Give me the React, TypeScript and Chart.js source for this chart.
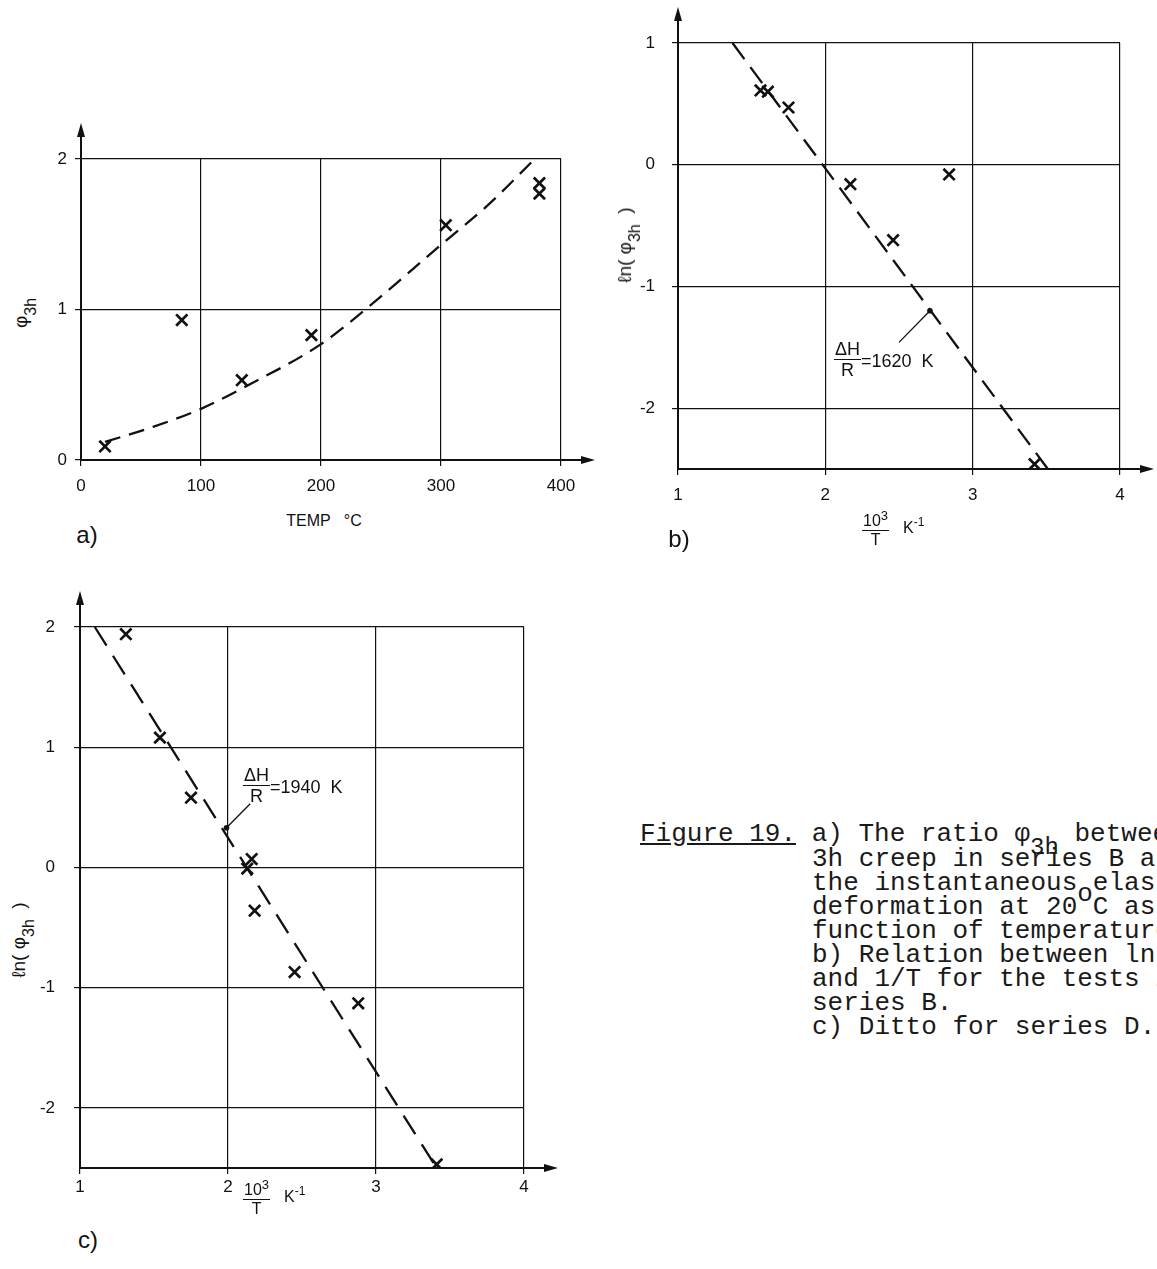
import React, { useEffect, useRef } from "react";
import { Chart, registerables } from "chart.js";

Chart.register(...registerables);

// ---------- Data: a) phi_3h vs temperature (series B) ----------
const tempA = [20, 84, 134, 192, 304, 382, 382];
const phiA = [0.09, 0.93, 0.53, 0.83, 1.56, 1.84, 1.77];
const fitTempA = [20, 60, 100, 140, 200, 240, 300, 340, 378];
const fitPhiA = [0.12, 0.22, 0.34, 0.5, 0.77, 1.02, 1.43, 1.7, 2.0];
const xTicksA = [0, 100, 200, 300, 400];
const yTicksA = [0, 1, 2];

// ---------- Data: b) ln(phi_3h) vs 10^3/T (series B) ----------
const invTB = [1.56, 1.61, 1.75, 2.17, 2.46, 2.84, 3.42];
const lnPhiB = [0.61, 0.6, 0.47, -0.16, -0.62, -0.08, -2.46];
const fitInvTB = [1.37, 3.51];
const fitLnB = [1.0, -2.5];
const xTicksB = [1, 2, 3, 4];
const yTicksB = [-2, -1, 0, 1];
const annotTipB: [number, number] = [2.71, -1.2];
const annotTailB: [number, number] = [2.5, -1.46];

// ---------- Data: c) ln(phi_3h) vs 10^3/T (series D) ----------
const invTD = [1.31, 1.54, 1.75, 2.16, 2.13, 2.18, 2.45, 2.88, 3.41];
const lnPhiD = [1.94, 1.08, 0.58, 0.07, -0.01, -0.36, -0.87, -1.13, -2.47];
const fitInvTD = [1.1, 3.41];
const fitLnD = [2.0, -2.5];
const xTicksD = [1, 2, 3, 4];
const yTicksD = [-2, -1, 0, 1, 2];
const annotTipD: [number, number] = [1.99, 0.33];
const annotTailD: [number, number] = [2.15, 0.53];

const INK = "#111";
const SANS = "'Liberation Sans', Arial, sans-serif";
const MONO = "'Liberation Mono', 'Courier New', monospace";

type Spec = {
  left: number; top: number; width: number; height: number;
  padTop: number; padRight: number;
  xMin: number; xMax: number; yMin: number; yMax: number;
  xTicks: number[]; yTicks: number[];
  px: number[]; py: number[]; fx: number[]; fy: number[];
  curved: boolean; dash: number[];
  yPad: number; xPad: number;
  tip?: [number, number]; tail?: [number, number];
};

const axisArrows = {
  id: "axisArrows",
  afterDraw(chart: any, _a: any, opts: any) {
    const { ctx, chartArea } = chart;
    const { left, top, right, bottom } = chartArea;
    const ey = 36, ex = 34;
    ctx.save();
    ctx.strokeStyle = INK; ctx.fillStyle = INK; ctx.lineWidth = 2;
    ctx.beginPath(); ctx.moveTo(left, top); ctx.lineTo(left, top - ey + 6); ctx.stroke();
    ctx.beginPath(); ctx.moveTo(left, top - ey); ctx.lineTo(left - 4, top - ey + 14); ctx.lineTo(left + 4, top - ey + 14); ctx.closePath(); ctx.fill();
    ctx.beginPath(); ctx.moveTo(right, bottom); ctx.lineTo(right + ex - 6, bottom); ctx.stroke();
    ctx.beginPath(); ctx.moveTo(right + ex, bottom); ctx.lineTo(right + ex - 14, bottom - 4); ctx.lineTo(right + ex - 14, bottom + 4); ctx.closePath(); ctx.fill();
    if (opts && opts.tip && opts.tail) {
      const xs = chart.scales.x, ys = chart.scales.y;
      const tx = xs.getPixelForValue(opts.tip[0]), ty = ys.getPixelForValue(opts.tip[1]);
      const sx = xs.getPixelForValue(opts.tail[0]), sy = ys.getPixelForValue(opts.tail[1]);
      ctx.lineWidth = 1.3;
      ctx.beginPath(); ctx.moveTo(sx, sy); ctx.lineTo(tx, ty); ctx.stroke();
      ctx.beginPath(); ctx.arc(tx, ty, 2.8, 0, Math.PI * 2); ctx.fill();
    }
    ctx.restore();
  },
};

function Plot({ spec }: { spec: Spec }) {
  const ref = useRef<HTMLCanvasElement | null>(null);
  useEffect(() => {
    if (!ref.current) return;
    const s = spec;
    const tickFont = { family: SANS, size: 17 };
    const chart = new Chart(ref.current, {
      type: "scatter",
      data: {
        datasets: [
          {
            data: s.px.map((x, i) => ({ x, y: s.py[i] })),
            pointStyle: "crossRot",
            pointRadius: 8,
            pointBorderWidth: 2.7,
            pointBorderColor: INK,
            pointBackgroundColor: INK,
            showLine: false,
          } as any,
          {
            data: s.fx.map((x, i) => ({ x, y: s.fy[i] })),
            showLine: true,
            borderColor: INK,
            borderWidth: 2.3,
            borderDash: s.dash,
            pointRadius: 0,
            tension: s.curved ? 0.4 : 0,
            cubicInterpolationMode: s.curved ? "monotone" : "default",
            clip: false,
          } as any,
        ],
      },
      options: {
        responsive: false,
        animation: false,
        layout: { padding: { top: s.padTop, right: s.padRight, left: 0, bottom: 0 } },
        plugins: {
          legend: { display: false },
          tooltip: { enabled: false },
          axisArrows: { tip: s.tip, tail: s.tail },
        } as any,
        scales: {
          x: {
            type: "linear",
            min: s.xMin,
            max: s.xMax,
            afterBuildTicks: (sc: any) => { sc.ticks = s.xTicks.map((v) => ({ value: v })); },
            afterFit: (sc: any) => { sc.height = 40; },
            grid: { color: INK, lineWidth: 1.2, tickLength: 6, drawTicks: true },
            border: { color: INK, width: 2 },
            ticks: { color: INK, font: tickFont, padding: s.xPad, maxRotation: 0, callback: (v: any) => String(v) },
          },
          y: {
            type: "linear",
            min: s.yMin,
            max: s.yMax,
            afterBuildTicks: (sc: any) => { sc.ticks = s.yTicks.map((v) => ({ value: v })); },
            afterFit: (sc: any) => { sc.width = 40; },
            grid: { color: INK, lineWidth: 1.2, tickLength: 6, drawTicks: true },
            border: { color: INK, width: 2 },
            ticks: { color: INK, font: tickFont, padding: s.yPad, callback: (v: any) => String(v) },
          },
        },
      } as any,
      plugins: [axisArrows as any],
    });
    return () => chart.destroy();
  }, [spec]);
  return (
    <canvas
      ref={ref}
      width={spec.width}
      height={spec.height}
      style={{ position: "absolute", left: spec.left, top: spec.top, width: spec.width, height: spec.height }}
    />
  );
}

const specA: Spec = {
  left: 41, top: 110, width: 565, height: 390, padTop: 49, padRight: 45,
  xMin: 0, xMax: 400, yMin: 0, yMax: 2, xTicks: xTicksA, yTicks: yTicksA,
  px: tempA, py: phiA, fx: fitTempA, fy: fitPhiA, curved: true, dash: [16, 9],
  yPad: 8, xPad: 10,
};
const specB: Spec = {
  left: 638, top: 0, width: 519, height: 509, padTop: 43, padRight: 37,
  xMin: 1, xMax: 4, yMin: -2.5, yMax: 1, xTicks: xTicksB, yTicks: yTicksB,
  px: invTB, py: lnPhiB, fx: fitInvTB, fy: fitLnB, curved: false, dash: [20, 10],
  yPad: 17, xPad: 10, tip: annotTipB, tail: annotTailB,
};
const specC: Spec = {
  left: 40, top: 580, width: 520, height: 628, padTop: 47, padRight: 36,
  xMin: 1, xMax: 4, yMin: -2.5, yMax: 2, xTicks: xTicksD, yTicks: yTicksD,
  px: invTD, py: lnPhiD, fx: fitInvTD, fy: fitLnD, curved: false, dash: [22, 12],
  yPad: 19, xPad: 3, tip: annotTipD, tail: annotTailD,
};

const abs = (x: number, y: number, extra: React.CSSProperties = {}): React.CSSProperties => ({
  position: "absolute", left: x, top: y, transform: "translate(-50%,-50%)", whiteSpace: "pre",
  color: INK, fontFamily: SANS, lineHeight: 1, ...extra,
});

function Frac({ top, bottom, size }: { top: React.ReactNode; bottom: React.ReactNode; size: number }) {
  return (
    <span style={{ display: "inline-flex", flexDirection: "column", alignItems: "center", lineHeight: 1 }}>
      <span style={{ fontSize: size, padding: "0 1px 1px" }}>{top}</span>
      <span style={{ fontSize: size, borderTop: `1.6px solid ${INK}`, padding: "1px 1px 0", alignSelf: "stretch", textAlign: "center" }}>{bottom}</span>
    </span>
  );
}

function YLabel({ x, y, ln }: { x: number; y: number; ln: boolean }) {
  return (
    <div style={abs(x, y, { transform: "translate(-50%,-50%) rotate(-90deg)", fontSize: 19 })}>
      {ln ? "ℓn( " : ""}φ<sub style={{ fontSize: 16, verticalAlign: "-9px" }}>3h</sub>{ln ? "  )" : ""}
    </div>
  );
}

function Annot({ x, y, value }: { x: number; y: number; value: string }) {
  return (
    <div style={{ position: "absolute", left: x, top: y, display: "flex", alignItems: "center", color: INK, fontFamily: SANS, whiteSpace: "pre" }}>
      <Frac top="ΔH" bottom="R" size={18} />
      <span style={{ fontSize: 18, marginTop: 4 }}>{"=" + value + "  K"}</span>
    </div>
  );
}

function InvT({ x, y }: { x: number; y: number }) {
  return (
    <div style={{ position: "absolute", left: x, top: y, display: "flex", alignItems: "center", color: INK, fontFamily: SANS, whiteSpace: "pre" }}>
      <Frac top={<span>10<sup style={{ fontSize: 13, verticalAlign: "6px" }}>3</sup></span>} bottom="T" size={16} />
      <span style={{ fontSize: 16, marginLeft: 14, marginTop: -6 }}>K<sup style={{ fontSize: 12, verticalAlign: "7px" }}>-1</sup></span>
    </div>
  );
}

const captionLines: React.ReactNode[] = [
  <span key="1"><span style={{ textDecoration: "underline" }}>Figure 19.</span>{" a) The ratio φ"}<span style={{ position: "relative", top: 13, fontSize: 24 }}>3h</span>{" between"}</span>,
  "3h creep in series B and",
  "the instantaneous elastic",
  <span key="4">{"deformation at 20"}<span style={{ position: "relative", top: -13 }}>o</span>{"C as a"}</span>,
  "function of temperature.",
  "b) Relation between ln φ3h",
  "and 1/T for the tests in",
  "series B.",
  "c) Ditto for series D.",
];

export default function App() {
  return (
    <div style={{ position: "fixed", left: 0, top: 0, width: 1157, height: 1269, overflow: "hidden", background: "#fff" }}>
      <Plot spec={specA} />
      <Plot spec={specB} />
      <Plot spec={specC} />

      {/* chart a texts */}
      <YLabel x={25} y={313} ln={false} />
      <div style={abs(324, 521, { fontSize: 16 })}>{"TEMP   °C"}</div>
      <div style={abs(87, 535, { fontSize: 24 })}>a)</div>

      {/* chart b texts */}
      <YLabel x={629} y={245} ln={true} />
      <InvT x={862} y={509} />
      <div style={abs(679, 539, { fontSize: 24 })}>b)</div>
      <Annot x={834} y={340} value="1620" />

      {/* chart c texts */}
      <YLabel x={23} y={940} ln={true} />
      <InvT x={243} y={1178} />
      <div style={abs(88, 1240, { fontSize: 24 })}>c)</div>
      <Annot x={243} y={766} value="1940" />

      {/* caption */}
      <div style={{ position: "absolute", left: 640, top: 822, fontFamily: MONO, fontSize: 26, lineHeight: "24px", color: "#1a1a1a", whiteSpace: "pre" }}>
        {captionLines.map((l, i) => (
          <div key={i} style={{ paddingLeft: i === 0 ? 0 : 172 }}>{l}</div>
        ))}
      </div>
    </div>
  );
}
